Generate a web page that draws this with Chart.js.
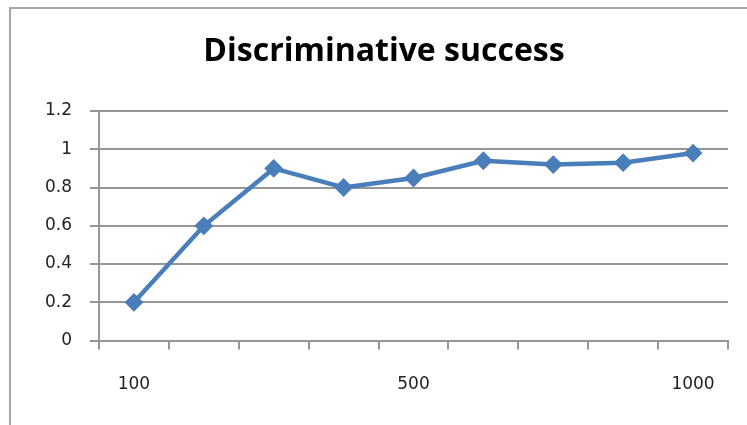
<!DOCTYPE html>
<html>
<head>
<meta charset="utf-8">
<script src="https://cdn.jsdelivr.net/npm/chart.js@4"></script>
<style>
  html, body { margin: 0; padding: 0; background: #fff; overflow: hidden; }
  #frame { position: absolute; left: 9px; top: 7px; width: 800px; height: 500px; border: 2px solid #a6a6a6; }
  #wrap { position: absolute; left: 0; top: 0; width: 747px; height: 425px; }
</style>
</head>
<body>
<div id="frame"></div>
<div id="wrap"><canvas id="myChart" width="747" height="425"></canvas></div>
<script>
"use strict";

var categories = ["100", "200", "300", "400", "500", "600", "700", "800", "1000"];
var shownLabels = ["100", "500", "1000"];
var success = [0.2, 0.6, 0.9, 0.8, 0.85, 0.94, 0.92, 0.93, 0.98];
var yTicks = [0, 0.2, 0.4, 0.6, 0.8, 1, 1.2];

var blue = '#4a7ebb';
var gridGrey = '#969696';

var ctx = document.getElementById('myChart').getContext('2d');
var chart = new Chart(ctx, {
    type: 'line',
    data: {
        labels: categories,
        datasets: [{
            label: "Discriminative success",
            data: success,
            borderColor: blue,
            backgroundColor: blue,
            borderWidth: 4.5,
            pointStyle: 'rectRot',
            pointRadius: 8,
            pointBorderWidth: 2,
            pointBorderColor: blue,
            pointBackgroundColor: blue,
            tension: 0
        }]
    },
    options: {
        responsive: false,
        animation: false,
        layout: { padding: { left: 40, right: 19, top: 0, bottom: 5 } },
        plugins: {
            legend: { display: false },
            tooltip: { enabled: false },
            title: {
                display: true,
                text: 'Discriminative success',
                color: '#000',
                font: { family: 'Open Sans', size: 32, weight: 'bold', lineHeight: 1.2 },
                padding: { top: 33, bottom: 39.6 }
            }
        },
        scales: {
            x: {
                offset: true,
                grid: {
                    offset: true,
                    drawOnChartArea: false,
                    drawTicks: true,
                    tickLength: 9,
                    color: gridGrey,
                    lineWidth: 2
                },
                border: { color: gridGrey, width: 2 },
                ticks: {
                    autoSkip: false,
                    maxRotation: 0,
                    padding: 25,
                    color: '#222',
                    font: { family: 'DejaVu Sans', size: 17 },
                    callback: function(value, index) {
                        var lab = categories[index];
                        return shownLabels.indexOf(lab) >= 0 ? lab : '';
                    }
                }
            },
            y: {
                min: 0,
                max: 1.2,
                afterBuildTicks: function(axis) {
                    axis.ticks = yTicks.map(function(v) { return { value: v }; });
                },
                afterFit: function(axis) { axis.width = 59; },
                grid: {
                    color: gridGrey,
                    lineWidth: 2,
                    tickLength: 9
                },
                border: { color: gridGrey, width: 2 },
                ticks: {
                    padding: 18,
                    color: '#222',
                    font: { family: 'DejaVu Sans', size: 17 },
                    callback: function(value) { return String(Math.round(value * 10) / 10); }
                }
            }
        }
    }
});
</script>
</body>
</html>
